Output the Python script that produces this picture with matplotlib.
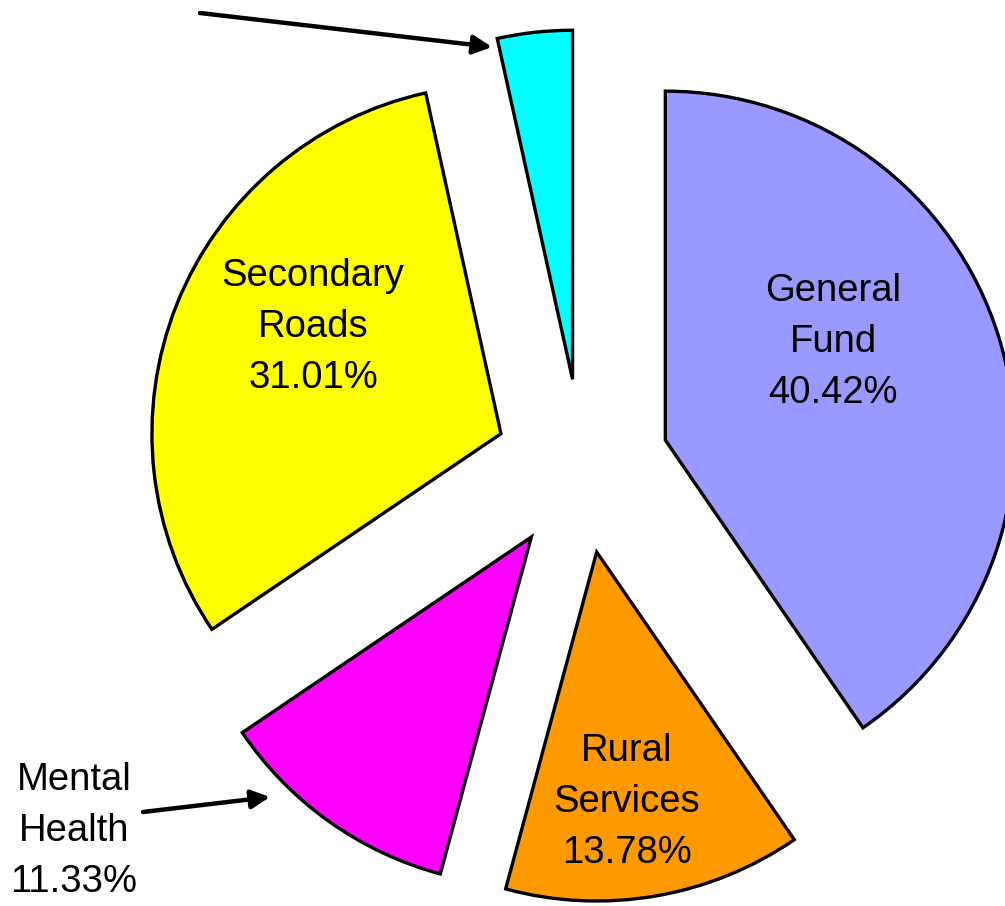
import numpy as np
import matplotlib
matplotlib.use("Agg")
import matplotlib.pyplot as plt

plt.rcParams['font.family'] = ['Liberation Sans', 'DejaVu Sans']

# slice data, clockwise from 12 o'clock
funds = ["General Fund", "Rural Services", "Mental Health", "Secondary Roads", "Other"]
shares = [40.42, 13.78, 11.33, 31.01, 3.46]
colors = ["#9999FF", "#FF9900", "#FF00FF", "#FFFF00", "#00FFFF"]
label_text = ["General\nFund\n40.42%", "Rural\nServices\n13.78%", "Mental\nHealth\n11.33%",
              "Secondary\nRoads\n31.01%"]

# layout (pixels in the 1005x906 image)
W, H = 1005, 906
cx, cy, rad = 582, 466, 349
label_px = [(833, 342), (627, 802), (74, 831), (313, 327)]
arrows_px = [((143, 812), (270, 797)), ((200, 13), (492, 47))]

fig = plt.figure(figsize=(W / 100, H / 100), dpi=100)
ax = fig.add_axes([0, 0, 1, 1])

ax.pie(shares, colors=colors, startangle=90, counterclock=False,
       explode=[0.25] * len(shares), radius=1,
       wedgeprops=dict(edgecolor="black", linewidth=2.4))

ax.set_xlim(-cx / rad, (W - cx) / rad)
ax.set_ylim(-(H - cy) / rad, cy / rad)
ax.set_aspect("equal")
ax.axis("off")

def to_fig(p):
    return (p[0] / W, 1 - p[1] / H)

for txt, p in zip(label_text, label_px):
    fig.text(*to_fig(p), txt, ha="center", va="center", fontsize=27.5,
             linespacing=1.55, color="black")

for tail, tip in arrows_px:
    ax.annotate("", xy=to_fig(tip), xytext=to_fig(tail),
                xycoords="figure fraction", textcoords="figure fraction",
                arrowprops=dict(arrowstyle="-|>", color="black", lw=3.2,
                                mutation_scale=28, shrinkA=0, shrinkB=0))

fig.savefig("out.png", dpi=100)
